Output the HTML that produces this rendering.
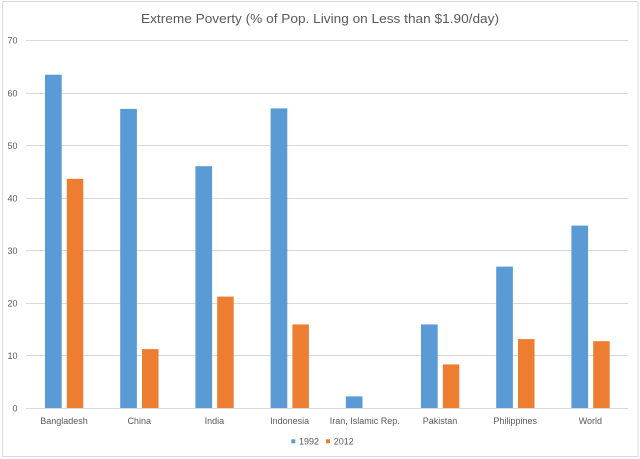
<!DOCTYPE html>
<html><head><meta charset="utf-8"><style>
html,body{margin:0;padding:0;background:#fff;}
svg{display:block;}
text{font-family:"Liberation Sans",sans-serif;fill:#595959;}
</style></head><body>
<svg width="640" height="459" viewBox="0 0 640 459" xmlns="http://www.w3.org/2000/svg">
<rect x="0" y="0" width="640" height="459" fill="#fff"/>
<rect x="2.5" y="1.5" width="635.5" height="455" fill="none" stroke="#d9d9d9" stroke-width="1"/>
<text x="320" y="23" font-size="12.8" text-anchor="middle" textLength="358" lengthAdjust="spacingAndGlyphs">Extreme Poverty (% of Pop. Living on Less than $1.90/day)</text>
<g stroke="#d9d9d9" stroke-width="1">
<line x1="26" x2="628" y1="40.5" y2="40.5"/>
<line x1="26" x2="628" y1="93.5" y2="93.5"/>
<line x1="26" x2="628" y1="145.5" y2="145.5"/>
<line x1="26" x2="628" y1="198.5" y2="198.5"/>
<line x1="26" x2="628" y1="250.5" y2="250.5"/>
<line x1="26" x2="628" y1="303.5" y2="303.5"/>
<line x1="26" x2="628" y1="355.5" y2="355.5"/>
<line x1="26" x2="628" y1="408.5" y2="408.5"/>
</g>
<g font-size="9" text-anchor="end">
<text x="17.5" y="43.5">70</text>
<text x="17.5" y="96.3">60</text>
<text x="17.5" y="148.8">50</text>
<text x="17.5" y="201.4">40</text>
<text x="17.5" y="254">30</text>
<text x="17.5" y="306.5">20</text>
<text x="17.5" y="359">10</text>
<text x="17.5" y="411.6">0</text>
</g>
<g fill="#5B9BD5">
<rect x="45" y="74.7" width="16.7" height="333.3"/>
<rect x="120.2" y="108.9" width="16.7" height="299.1"/>
<rect x="195.4" y="166.2" width="16.7" height="241.8"/>
<rect x="270.6" y="108.4" width="16.7" height="299.6"/>
<rect x="345.8" y="396.4" width="16.7" height="11.6"/>
<rect x="421" y="324.4" width="16.7" height="83.6"/>
<rect x="496.2" y="266.6" width="16.7" height="141.4"/>
<rect x="571.4" y="225.6" width="16.7" height="182.4"/>
</g>
<g fill="#ED7D31">
<rect x="66.8" y="178.8" width="16.5" height="229.2"/>
<rect x="142" y="349.1" width="16.5" height="58.9"/>
<rect x="217.2" y="296.6" width="16.5" height="111.4"/>
<rect x="292.4" y="324.4" width="16.5" height="83.6"/>
<rect x="442.8" y="364.4" width="16.5" height="43.6"/>
<rect x="518" y="339.1" width="16.5" height="68.9"/>
<rect x="593.2" y="341.2" width="16.5" height="66.8"/>
</g>
<g font-size="9" text-anchor="middle">
<text x="64" y="424">Bangladesh</text>
<text x="139.2" y="424">China</text>
<text x="214.4" y="424">India</text>
<text x="289.6" y="424">Indonesia</text>
<text x="364.8" y="424">Iran, Islamic Rep.</text>
<text x="440" y="424">Pakistan</text>
<text x="515.2" y="424">Philippines</text>
<text x="590.4" y="424">World</text>
</g>
<rect x="291.3" y="439.3" width="4" height="4" fill="#5B9BD5"/>
<text x="299" y="444.5" font-size="9">1992</text>
<rect x="326" y="439.3" width="4" height="4" fill="#ED7D31"/>
<text x="333.7" y="444.5" font-size="9">2012</text>
</svg>
</body></html>
